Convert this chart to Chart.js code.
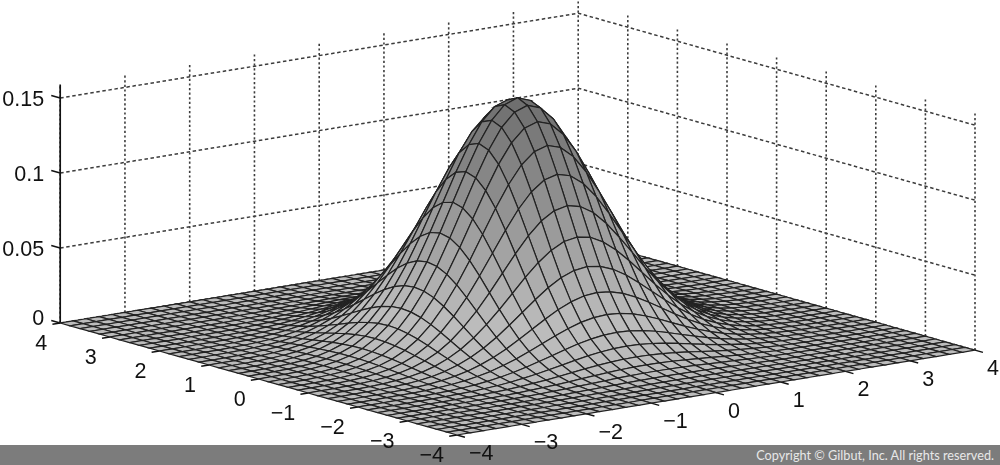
<!DOCTYPE html>
<html>
<head>
<meta charset="utf-8">
<script src="https://cdn.jsdelivr.net/npm/chart.js@4"></script>
<style>
  html, body { margin: 0; padding: 0; background: #fff; }
  #wrap { position: relative; width: 1000px; height: 465px; overflow: hidden; }
  #band { position: absolute; left: 0; right: 0; top: 445px; height: 20px; background: #7c7c7c; }
  #copy { position: absolute; right: 6px; top: 447px; color: #e8e8e8; font: 12.7px "Lato", sans-serif; }
  canvas { position: absolute; left: 0; top: 0; }
</style>
</head>
<body>
<div id="wrap">
  <div id="band"></div>
  <div id="copy">Copyright © Gilbut, Inc. All rights reserved.</div>
  <canvas id="surface" width="1000" height="465"></canvas>
</div>
<script>
// axis ticks
const xTicks = [-4, -3, -2, -1, 0, 1, 2, 3, 4];
const yTicks = [-4, -3, -2, -1, 0, 1, 2, 3, 4];
const zTicks = [0, 0.05, 0.1, 0.15];
const zTop = 0.159;

// mesh lines along both floor axes
const gridCoords = [-4, -3.8, -3.6, -3.4, -3.2, -3, -2.8, -2.6, -2.4, -2.2, -2, -1.8, -1.6, -1.4, -1.2, -1, -0.8, -0.6, -0.4, -0.2,
    0, 0.2, 0.4, 0.6, 0.8, 1, 1.2, 1.4, 1.6, 1.8, 2, 2.2, 2.4, 2.6, 2.8, 3, 3.2, 3.4, 3.6, 3.8, 4];

// estimated heights in 1/10000, one quarter of the dome (row = |y|, column = |x|, steps of 0.2)
const heightsQuarter = [
    [1592, 1560, 1470, 1330, 1156, 966, 775, 597, 443, 315, 215, 142, 89, 54, 32, 18, 10, 5, 2, 1, 0],
    [1560, 1529, 1441, 1303, 1133, 946, 760, 585, 434, 309, 211, 139, 87, 53, 31, 17, 9, 5, 2, 1, 0],
    [1470, 1441, 1357, 1228, 1067, 892, 715, 551, 409, 291, 198, 131, 82, 50, 29, 16, 9, 5, 2, 1, 0],
    [1330, 1303, 1228, 1111, 966, 807, 647, 499, 370, 263, 180, 119, 75, 45, 27, 15, 8, 4, 2, 1, 0],
    [1156, 1133, 1067, 966, 839, 701, 563, 433, 322, 229, 156, 103, 65, 39, 23, 13, 7, 4, 2, 1, 0],
    [966, 946, 892, 807, 701, 586, 470, 362, 269, 191, 130, 86, 54, 33, 19, 11, 6, 3, 1, 1, 0],
    [775, 760, 715, 647, 563, 470, 377, 291, 216, 153, 105, 69, 43, 26, 16, 9, 5, 2, 1, 0, 0],
    [597, 585, 551, 499, 433, 362, 291, 224, 166, 118, 81, 53, 33, 20, 12, 7, 4, 2, 1, 0, 0],
    [443, 434, 409, 370, 322, 269, 216, 166, 123, 88, 60, 40, 25, 15, 9, 5, 3, 1, 1, 0, 0],
    [315, 309, 291, 263, 229, 191, 153, 118, 88, 62, 43, 28, 18, 11, 6, 3, 2, 1, 0, 0, 0],
    [215, 211, 198, 180, 156, 130, 105, 81, 60, 43, 29, 19, 12, 7, 4, 2, 1, 1, 0, 0, 0],
    [142, 139, 131, 119, 103, 86, 69, 53, 40, 28, 19, 13, 8, 5, 3, 2, 1, 0, 0, 0, 0],
    [89, 87, 82, 75, 65, 54, 43, 33, 25, 18, 12, 8, 5, 3, 2, 1, 1, 0, 0, 0, 0],
    [54, 53, 50, 45, 39, 33, 26, 20, 15, 11, 7, 5, 3, 2, 1, 1, 0, 0, 0, 0, 0],
    [32, 31, 29, 27, 23, 19, 16, 12, 9, 6, 4, 3, 2, 1, 1, 0, 0, 0, 0, 0, 0],
    [18, 17, 16, 15, 13, 11, 9, 7, 5, 3, 2, 2, 1, 1, 0, 0, 0, 0, 0, 0, 0],
    [10, 9, 9, 8, 7, 6, 5, 4, 3, 2, 1, 1, 1, 0, 0, 0, 0, 0, 0, 0, 0],
    [5, 5, 5, 4, 4, 3, 2, 2, 1, 1, 1, 0, 0, 0, 0, 0, 0, 0, 0, 0, 0],
    [2, 2, 2, 2, 2, 1, 1, 1, 1, 0, 0, 0, 0, 0, 0, 0, 0, 0, 0, 0, 0],
    [1, 1, 1, 1, 1, 1, 0, 0, 0, 0, 0, 0, 0, 0, 0, 0, 0, 0, 0, 0, 0],
    [0, 0, 0, 0, 0, 0, 0, 0, 0, 0, 0, 0, 0, 0, 0, 0, 0, 0, 0, 0, 0]
];

function heightAt(i, j) {
    return heightsQuarter[Math.abs(j - 20)][Math.abs(i - 20)] / 10000;
}

// fixed 3d view, result goes on the chart's two linear scales
function project(x, y, z) {
    return {
        x: 457 + (x + 4) * 64.75 - (y + 4) * 49.6,
        y: 435 - (x + 4) * 10.6 - (y + 4) * 14 - z * 1500
    };
}

function lineSet(points, color, width, dash, order) {
    return {
        data: points, showLine: true, fill: false, pointRadius: 0,
        borderColor: color, borderWidth: width, borderDash: dash, order: order
    };
}

const datasets = [];

// dotted walls at the back
const wallColor = '#3c3c3c';
xTicks.forEach(function (x) {
    datasets.push(lineSet([project(x, 4, 0), project(x, 4, zTop)], wallColor, 1.6, [2.2, 2.4], 200));
});
yTicks.forEach(function (y) {
    if (y < 4) datasets.push(lineSet([project(4, y, 0), project(4, y, zTop)], wallColor, 1.6, [2.2, 2.4], 200));
});
zTicks.forEach(function (z) {
    datasets.push(lineSet([project(-4, 4, z), project(4, 4, z), project(4, -4, z)], wallColor, 1.5, [3.5, 2.6], 199));
});

// solid z axis and the small ticks
datasets.push(lineSet([project(-4, 4, 0), project(-4, 4, zTop)], '#111', 1.7, [], 198));
zTicks.forEach(function (z) {
    datasets.push(lineSet([project(-4, 4, z), project(-4, 4.18, z)], '#111', 1.4, [], 198));
});
xTicks.forEach(function (x) {
    datasets.push(lineSet([project(x, -4, 0), project(x, -4.16, 0)], '#111', 1.4, [], 198));
});
yTicks.forEach(function (y) {
    datasets.push(lineSet([project(-4, y, 0), project(-4.12, y, 0)], '#111', 1.4, [], 198));
});

// surface patches, far corner drawn first
for (let j = 0; j < gridCoords.length - 1; j++) {
    for (let i = 0; i < gridCoords.length - 1; i++) {
        const corners = [[i, j], [i + 1, j], [i + 1, j + 1], [i, j + 1], [i, j]];
        const pts = corners.map(function (c) {
            return project(gridCoords[c[0]], gridCoords[c[1]], heightAt(c[0], c[1]));
        });
        const mean = (heightAt(i, j) + heightAt(i + 1, j) + heightAt(i + 1, j + 1) + heightAt(i, j + 1)) / 4;
        const gray = Math.round(Math.min(188, 205 - 600 * mean));
        datasets.push({
            data: pts, showLine: true, fill: 'shape', pointRadius: 0,
            backgroundColor: 'rgb(' + gray + ',' + gray + ',' + gray + ')',
            borderColor: '#222', borderWidth: 1.2, order: i + j
        });
    }
}

// tick labels, placed from the same projection
const tickLabels = {
    id: 'tickLabels',
    afterDraw: function (chart) {
        const c = chart.ctx;
        const sx = chart.scales.x, sy = chart.scales.y;
        function put(p, text, dx, dy, align) {
            c.textAlign = align;
            c.fillText(text, sx.getPixelForValue(p.x) + dx, sy.getPixelForValue(p.y) + dy);
        }
        function fmt(v) {
            return v < 0 ? '\u2212' + (-v) : String(v);
        }
        c.save();
        c.fillStyle = '#111';
        c.font = '21.5px "Liberation Sans", sans-serif';
        c.textBaseline = 'middle';
        yTicks.forEach(function (y) { put(project(-4, y, 0), fmt(y), -13, 21, 'right'); });
        xTicks.forEach(function (x) { put(project(x, -4, 0), fmt(x), 12, 19, 'left'); });
        zTicks.forEach(function (z) { put(project(-4, 4, z), String(z), -16, z === 0 ? -4 : 2, 'right'); });
        c.restore();
    }
};

new Chart(document.getElementById('surface'), {
    type: 'scatter',
    data: { datasets: datasets },
    plugins: [tickLabels],
    options: {
        responsive: false,
        animation: false,
        events: [],
        layout: { padding: 0 },
        scales: {
            x: { type: 'linear', min: 0, max: 1000, display: false },
            y: { type: 'linear', min: 0, max: 465, reverse: true, display: false }
        },
        plugins: { legend: { display: false }, tooltip: { enabled: false } }
    }
});
</script>
</body>
</html>
